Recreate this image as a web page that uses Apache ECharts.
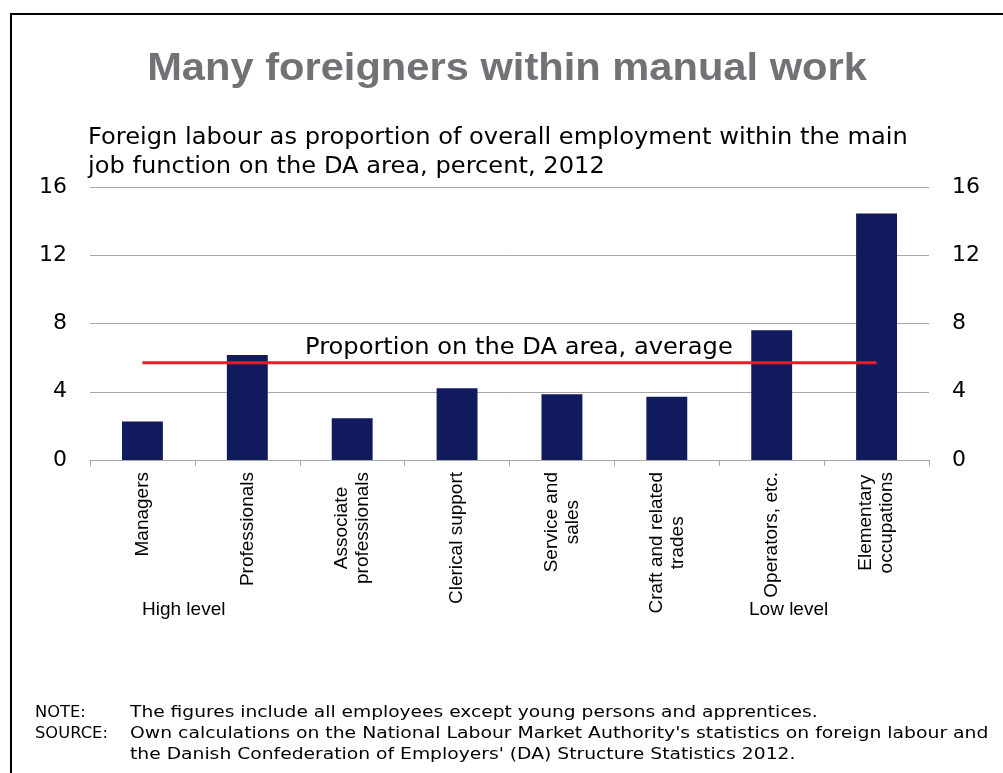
<!DOCTYPE html>
<html>
<head>
<meta charset="utf-8">
<script src="https://cdn.jsdelivr.net/npm/echarts@6/dist/echarts.min.js"></script>
<style>
  html, body { margin: 0; padding: 0; background: #fff; }
  #chart { width: 1003px; height: 773px; }
</style>
</head>
<body>
<div id="chart"></div>
<script>
// Job functions, ordered from high to low skill level
const categories = [
  'Managers',
  'Professionals',
  'Associate\nprofessionals',
  'Clerical support',
  'Service and\nsales',
  'Craft and related\ntrades',
  'Operators, etc.',
  'Elementary\noccupations'
];
// Foreign labour share of employment, percent, 2012
const foreignShare = [2.25, 6.15, 2.45, 4.2, 3.85, 3.7, 7.6, 14.45];
// Average share across the whole DA area
const averageShare = 5.7;
const averageLine = categories.map(() => averageShare);
const yTicks = [0, 4, 8, 12, 16];

const chart = echarts.init(document.getElementById('chart'));

const tickFont = { fontFamily: 'DejaVu Sans', fontSize: 22, color: '#000' };

function centeredLines(v) {
  return v.split('\n').map(l => '{c|' + l + '}').join('\n');
}

const valueAxis = (pos) => ({
  type: 'value',
  position: pos,
  min: yTicks[0],
  max: yTicks[yTicks.length - 1],
  interval: yTicks[1] - yTicks[0],
  axisLine: { show: false },
  axisTick: { show: false },
  splitLine: { show: pos === 'left', lineStyle: { color: '#a6a6a6', width: 1 } },
  axisLabel: Object.assign({ margin: 23 }, tickFont)
});

// Horizontally widened text block, positioned by its top edge
function wideText(x, y, text, font, sx, extra) {
  return {
    type: 'text', x: x, y: y, scaleX: sx, silent: true,
    style: Object.assign({ text: text, font: font, fill: '#000', verticalAlign: 'top' }, extra || {})
  };
}

chart.setOption({
  animation: false,
  backgroundColor: '#fff',
  grid: { left: 90, right: 74, top: 187, bottom: 313, containLabel: false },
  xAxis: {
    type: 'category',
    data: categories,
    axisLine: { lineStyle: { color: '#a6a6a6', width: 1 } },
    axisTick: { show: true, length: 6, lineStyle: { color: '#a6a6a6' } },
    axisLabel: {
      interval: 0,
      rotate: 90,
      margin: 12,
      fontFamily: 'Liberation Sans',
      fontSize: 19,
      color: '#000',
      lineHeight: 21,
      formatter: centeredLines,
      rich: { c: { align: 'center', fontFamily: 'Liberation Sans', fontSize: 19, color: '#000', lineHeight: 21 } }
    }
  },
  yAxis: [valueAxis('left'), valueAxis('right')],
  series: [
    {
      type: 'bar',
      data: foreignShare,
      barWidth: '39%',
      itemStyle: { color: '#111a5c' }
    },
    {
      type: 'line',
      data: averageLine,
      symbol: 'none',
      lineStyle: { color: '#ec1c24', width: 3 },
      z: 5
    }
  ],
  graphic: [
    {
      type: 'rect',
      shape: { x: 11, y: 14, width: 1100, height: 900 },
      style: { fill: 'none', stroke: '#000', lineWidth: 2 },
      silent: true
    },
    wideText(507, 51, 'Many foreigners within manual work', 'bold 38px "Liberation Sans"', 1.096,
      { fill: '#717275', align: 'center' }),
    wideText(88, 127, 'Foreign labour as proportion of overall employment within the main',
      '23px "DejaVu Sans"', 1.05),
    wideText(88, 156, 'job function on the DA area, percent, 2012', '23px "DejaVu Sans"', 1.05),
    wideText(305, 337, 'Proportion on the DA area, average', '23px "DejaVu Sans"', 1.05),
    {
      type: 'text', left: 142, top: 600,
      style: { text: 'High level', font: '19px "Liberation Sans"', fill: '#000' }
    },
    {
      type: 'text', left: 749, top: 600,
      style: { text: 'Low level', font: '19px "Liberation Sans"', fill: '#000' }
    },
    wideText(35, 705, 'NOTE:', '16px "DejaVu Sans"', 1.02),
    wideText(35, 726, 'SOURCE:', '16px "DejaVu Sans"', 1.02),
    wideText(130, 705, 'The figures include all employees except young persons and apprentices.',
      '16px "DejaVu Sans"', 1.165),
    wideText(130, 726, 'Own calculations on the National Labour Market Authority\'s statistics on foreign labour and',
      '16px "DejaVu Sans"', 1.175),
    wideText(130, 747, 'the Danish Confederation of Employers\' (DA) Structure Statistics 2012.',
      '16px "DejaVu Sans"', 1.17)
  ]
});
</script>
</body>
</html>
